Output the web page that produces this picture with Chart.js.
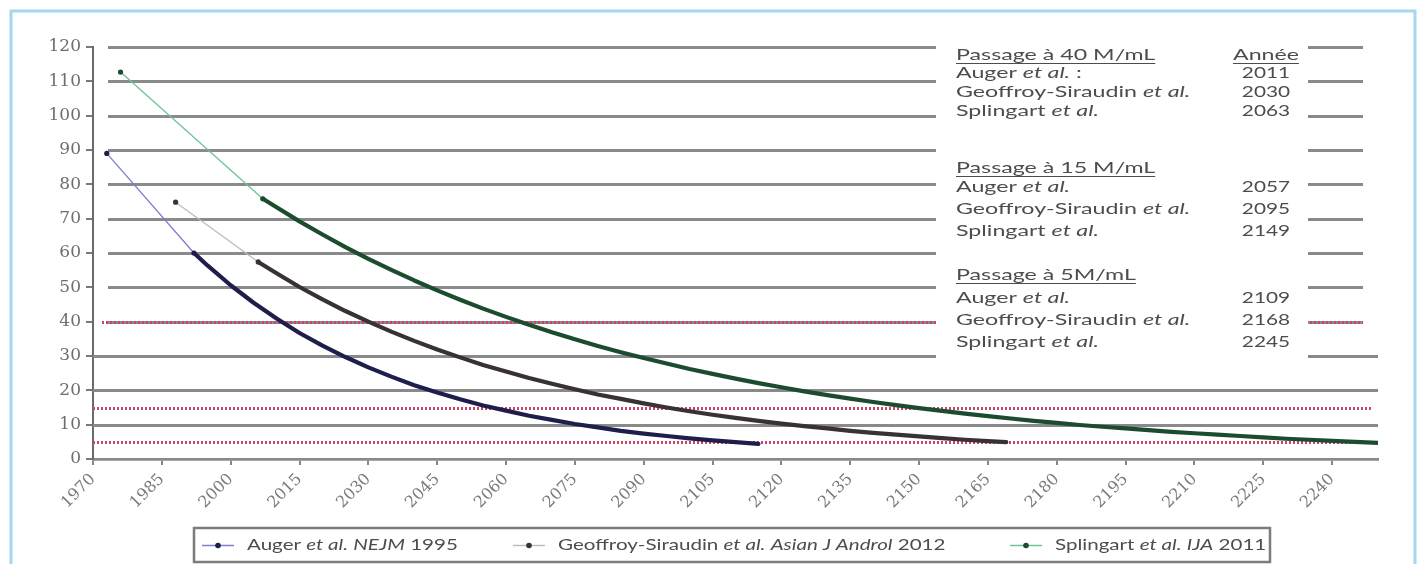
<!DOCTYPE html>
<html>
<head>
<meta charset="utf-8">
<script src="https://cdn.jsdelivr.net/npm/chart.js@4/dist/chart.umd.min.js"></script>
<style>
  html, body { margin: 0; padding: 0; background: #ffffff; overflow: hidden; }
  canvas { display: block; }
</style>
</head>
<body>
<canvas id="c" width="1421" height="564"></canvas>
<script>
// Sperm concentration (millions/mL): first two points are observed, the rest is the projection.
const augerYears = [1973, 1992, 1995, 2000, 2005, 2010, 2015, 2020, 2025, 2030, 2035, 2040, 2045, 2050,
  2055, 2060, 2065, 2070, 2075, 2080, 2085, 2090, 2095, 2100, 2105, 2110, 2115];
const augerValues = [89, 60, 56.3, 50.6, 45.5, 40.9, 36.7, 33.0, 29.7, 26.7, 24.0, 21.5, 19.4, 17.4,
  15.6, 14.1, 12.6, 11.4, 10.2, 9.2, 8.2, 7.4, 6.7, 6.0, 5.4, 4.9, 4.4];

const geoffroyYears = [1988, 2006, 2010, 2015, 2020, 2025, 2030, 2035, 2040, 2045, 2050, 2055, 2060, 2065,
  2070, 2075, 2080, 2085, 2090, 2095, 2100, 2105, 2110, 2115, 2120, 2125, 2130, 2135, 2140, 2145,
  2150, 2155, 2160, 2165, 2169];
const geoffroyValues = [74.8, 57.4, 54.1, 50.1, 46.5, 43.1, 40.0, 37.1, 34.4, 31.9, 29.6, 27.4, 25.5, 23.6,
  21.9, 20.3, 18.8, 17.5, 16.2, 15.0, 13.9, 12.9, 12.0, 11.1, 10.3, 9.6, 8.9, 8.2, 7.6, 7.1,
  6.6, 6.1, 5.6, 5.2, 4.9];

const splingartYears = [1976, 2007, 2010, 2015, 2020, 2025, 2030, 2035, 2040, 2045, 2050, 2055, 2060, 2065,
  2070, 2075, 2080, 2085, 2090, 2095, 2100, 2105, 2110, 2115, 2120, 2125, 2130, 2135, 2140, 2145,
  2150, 2155, 2160, 2165, 2170, 2175, 2180, 2185, 2190, 2195, 2200, 2205, 2210, 2215, 2220, 2225,
  2230, 2235, 2240, 2245, 2250];
const splingartValues = [112.7, 75.8, 73.3, 69.2, 65.4, 61.7, 58.3, 55.1, 52.0, 49.1, 46.4, 43.8, 41.4, 39.1,
  36.9, 34.9, 32.9, 31.1, 29.4, 27.8, 26.2, 24.8, 23.4, 22.1, 20.9, 19.7, 18.6, 17.6, 16.6, 15.7,
  14.8, 14.0, 13.2, 12.5, 11.8, 11.1, 10.5, 9.9, 9.4, 8.9, 8.4, 7.9, 7.5, 7.1, 6.7, 6.3,
  5.9, 5.6, 5.3, 5.0, 4.7];

// Axis ticks
const xTickYears = [1970, 1985, 2000, 2015, 2030, 2045, 2060, 2075, 2090, 2105, 2120, 2135, 2150,
  2165, 2180, 2195, 2210, 2225, 2240];
const yTickValues = [0, 10, 20, 30, 40, 50, 60, 70, 80, 90, 100, 110, 120];

// Threshold levels (M/mL) and the year each projection crosses them
const thresholds = [40, 15, 5];
const thresholdTitles = ['Passage à 40 M/mL', 'Passage à 15 M/mL', 'Passage à 5M/mL'];
const authors = ['Auger', 'Geoffroy-Siraudin', 'Splingart'];
const crossingYears = [
  [2011, 2030, 2063],
  [2057, 2095, 2149],
  [2109, 2168, 2245]
];

// Legend captions: [text, italic]
const legendCaptions = [
  [['Auger ', false], ['et al.', true], [' ', false], ['NEJM', true], [' 1995', false]],
  [['Geoffroy-Siraudin ', false], ['et al.', true], [' ', false], ['Asian J Androl', true], [' 2012', false]],
  [['Splingart ', false], ['et al.', true], [' ', false], ['IJA', true], [' 2011', false]]
];

const lightColors = ['#7d7dd2', '#bcbcbc', '#6cc596'];
const darkColors = ['#1e1e4c', '#383232', '#1c4c2e'];

const TEXT_FONT = 'Lato, "Open Sans", sans-serif';
const TEXT_COLOR = '#4d4d4d';

function toPoints(xs, ys) {
  return xs.map((x, i) => ({ x: x, y: ys[i] }));
}

function makeDataset(label, xs, ys, k) {
  return {
    label: label,
    data: toPoints(xs, ys),
    borderColor: darkColors[k],
    backgroundColor: darkColors[k],
    borderWidth: 4.2,
    borderJoinStyle: 'round',
    borderCapStyle: 'round',
    tension: 0,
    fill: false,
    pointRadius: c => (c.dataIndex <= 1 ? 2.6 : 0),
    pointBackgroundColor: darkColors[k],
    pointBorderWidth: 0,
    segment: {
      borderColor: c => (c.p0DataIndex === 0 ? lightColors[k] : darkColors[k]),
      borderWidth: c => (c.p0DataIndex === 0 ? 1.3 : 4.2)
    }
  };
}

// Draws a sequence of [text, italic] runs, horizontally stretched; returns the drawn extent
function drawRuns(ctx, runs, x, y, align, size, stretch) {
  ctx.save();
  let total = 0;
  runs.forEach(r => {
    ctx.font = (r[1] ? 'italic ' : '') + size + 'px ' + TEXT_FONT;
    total += ctx.measureText(r[0]).width;
  });
  let startX = x;
  if (align === 'center') startX = x - total * stretch / 2;
  if (align === 'right') startX = x - total * stretch;
  ctx.translate(startX, y);
  ctx.scale(stretch, 1);
  ctx.textBaseline = 'middle';
  ctx.textAlign = 'left';
  ctx.fillStyle = TEXT_COLOR;
  let cx = 0;
  runs.forEach(r => {
    ctx.font = (r[1] ? 'italic ' : '') + size + 'px ' + TEXT_FONT;
    ctx.fillText(r[0], cx, 0);
    cx += ctx.measureText(r[0]).width;
  });
  ctx.restore();
  return { left: startX, width: total * stretch };
}

const framePlugin = {
  id: 'frame',
  beforeDraw(chart) {
    const ctx = chart.ctx;
    ctx.save();
    ctx.fillStyle = '#ffffff';
    ctx.fillRect(0, 0, chart.width, chart.height);
    ctx.strokeStyle = '#a3d8ee';
    ctx.lineWidth = 3;
    ctx.strokeRect(11, 11, 1404, 620);
    ctx.restore();
  }
};

const linesPlugin = {
  id: 'levelLines',
  beforeDatasetsDraw(chart) {
    const ctx = chart.ctx;
    const area = chart.chartArea;
    const y = chart.scales.y;
    ctx.save();
    // horizontal grid
    ctx.strokeStyle = '#8a8a8a';
    ctx.lineWidth = 2.8;
    yTickValues.forEach(v => {
      if (v === 0) return;
      const py = Math.round(y.getPixelForValue(v)) + 0.5;
      const x0 = v >= 40 ? area.left + 15 : area.left;
      const x1 = v >= 40 ? area.right - 15 : area.right;
      ctx.beginPath();
      ctx.moveTo(x0, py);
      ctx.lineTo(x1, py);
      ctx.stroke();
    });
    // threshold dotted lines
    ctx.strokeStyle = '#c9436a';
    ctx.lineWidth = 3;
    ctx.setLineDash([2, 2]);
    thresholds.forEach(v => {
      const py = Math.round(y.getPixelForValue(v)) + 0.5;
      const x0 = v >= 40 ? area.left + 9 : area.left;
      const x1 = v >= 40 ? area.right - 15 : area.right - 5;
      ctx.beginPath();
      ctx.moveTo(x0, py);
      ctx.lineTo(x1, py);
      ctx.stroke();
    });
    ctx.setLineDash([]);

    // table of crossing years on a white panel
    ctx.fillStyle = '#ffffff';
    ctx.fillRect(936, 38, 372, 325);
    const rowY = [[55, 73, 92, 111], [168, 187, 209, 231], [275, 298, 320, 342]];
    const textX = 956;
    const yearX = 1266;
    const size = 16;
    const stretch = 1.45;
    thresholds.forEach((t, b) => {
      const head = drawRuns(ctx, [[thresholdTitles[b], false]], textX, rowY[b][0], 'left', size, stretch);
      ctx.strokeStyle = TEXT_COLOR;
      ctx.lineWidth = 1;
      ctx.beginPath();
      ctx.moveTo(head.left, rowY[b][0] + 8.5);
      ctx.lineTo(head.left + head.width, rowY[b][0] + 8.5);
      ctx.stroke();
      if (b === 0) {
        const an = drawRuns(ctx, [['Année', false]], yearX, rowY[b][0], 'center', size, stretch);
        ctx.beginPath();
        ctx.moveTo(an.left, rowY[b][0] + 8.5);
        ctx.lineTo(an.left + an.width, rowY[b][0] + 8.5);
        ctx.stroke();
      }
      authors.forEach((a, i) => {
        const runs = [[a + ' ', false], ['et al.', true]];
        if (b === 0 && i === 0) runs.push([' :', false]);
        drawRuns(ctx, runs, textX, rowY[b][i + 1], 'left', size, stretch);
        drawRuns(ctx, [[String(crossingYears[b][i]), false]], yearX, rowY[b][i + 1], 'center', size, 1.3);
      });
    });
    ctx.restore();
  }
};

const legendPlugin = {
  id: 'boxLegend',
  afterDraw(chart) {
    const ctx = chart.ctx;
    ctx.save();
    ctx.strokeStyle = '#7c7c7c';
    ctx.lineWidth = 2.5;
    ctx.strokeRect(194, 528, 1076, 34);
    const cy = 545;
    const starts = [202, 513, 1010];
    chart.data.datasets.forEach((ds, i) => {
      const x = starts[i];
      ctx.strokeStyle = lightColors[i];
      ctx.lineWidth = 1.5;
      ctx.beginPath();
      ctx.moveTo(x, cy + 0.5);
      ctx.lineTo(x + 32, cy + 0.5);
      ctx.stroke();
      ctx.fillStyle = darkColors[i];
      ctx.beginPath();
      ctx.arc(x + 16, cy + 0.5, 2.8, 0, Math.PI * 2);
      ctx.fill();
      drawRuns(ctx, legendCaptions[i], x + 45, cy, 'left', 15, 1.37);
    });
    ctx.restore();
  }
};

function build() {
  new Chart(document.getElementById('c'), {
    type: 'line',
    data: {
      datasets: [
        makeDataset('Auger et al. NEJM 1995', augerYears, augerValues, 0),
        makeDataset('Geoffroy-Siraudin et al. Asian J Androl 2012', geoffroyYears, geoffroyValues, 1),
        makeDataset('Splingart et al. IJA 2011', splingartYears, splingartValues, 2)
      ]
    },
    options: {
      responsive: false,
      animation: false,
      devicePixelRatio: 1,
      layout: { padding: { left: 0, right: 43, top: 47, bottom: 45 } },
      plugins: { legend: { display: false }, tooltip: { enabled: false } },
      scales: {
        x: {
          type: 'linear',
          min: 1970,
          max: 2250,
          afterBuildTicks: s => { s.ticks = xTickYears.map(v => ({ value: v })); },
          afterFit: s => { s.height = 60; },
          ticks: {
            autoSkip: false,
            minRotation: 45,
            maxRotation: 45,
            padding: 5,
            color: '#7a7a7a',
            font: { family: '"DejaVu Serif", serif', size: 16 },
            callback: v => String(v)
          },
          grid: { drawOnChartArea: false, drawTicks: true, tickLength: 6, color: '#858585', lineWidth: 2 },
          border: { display: true, color: '#8a8a8a', width: 2.8 }
        },
        y: {
          min: 0,
          max: 120,
          afterBuildTicks: s => { s.ticks = yTickValues.map(v => ({ value: v })); },
          afterFit: s => { s.width = 93; },
          ticks: {
            padding: 5,
            color: '#6e6e6e',
            font: { family: '"DejaVu Serif", serif', size: 17 },
            callback: v => String(v)
          },
          grid: { drawOnChartArea: false, drawTicks: true, tickLength: 7, color: '#7a7a7a', lineWidth: 2 },
          border: { display: true, color: '#6a6a6a', width: 2 }
        }
      }
    },
    plugins: [framePlugin, linesPlugin, legendPlugin]
  });
}

if (document.fonts && document.fonts.load) {
  Promise.all([
    document.fonts.load('15px Lato'),
    document.fonts.load('italic 15px Lato'),
    document.fonts.load('16px "DejaVu Serif"')
  ]).then(build, build);
} else {
  build();
}
</script>
</body>
</html>
